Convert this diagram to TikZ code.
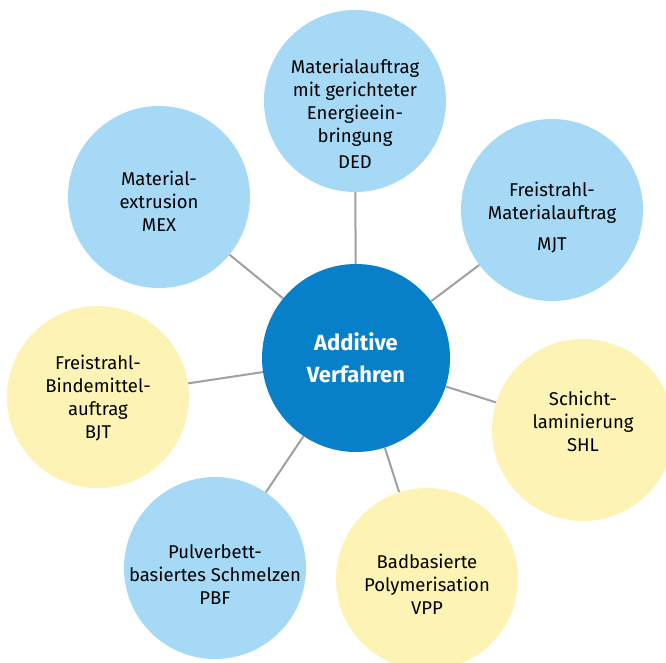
\documentclass[tikz,border=0pt]{standalone}
\usepackage{fontspec}
\setmainfont{Fira Sans}
\definecolor{lblue}{RGB}{166,217,246}
\definecolor{lyellow}{RGB}{252,243,181}
\definecolor{dblue}{RGB}{8,127,201}
\definecolor{conn}{RGB}{160,160,160}
\begin{document}
\begin{tikzpicture}[x=1pt,y=-1pt,
  outer/.style={circle,minimum size=182pt,inner sep=0pt},
  bluec/.style={outer,fill=lblue},
  yelc/.style={outer,fill=lyellow},
  lbl/.style={inner sep=0pt,align=center,text=black,font=\fontsize{18.5}{23}\selectfont},
  hub/.style={circle,minimum size=188pt,inner sep=0pt,fill=dblue,align=center,text=white,
    font=\fontsize{22}{32}\selectfont\bfseries},
  link/.style={draw=conn,line width=2pt}]
\fill[white] (0,0) rectangle (666,662);
\useasboundingbox (0,0) rectangle (666,662);
\begin{scope}
\clip (0,0) rectangle (666,662);
\node[hub] (c) at (356,358) {Additive\\Verfahren};
\node[bluec] (ded) at (355,101) {};
\node[bluec] (mex) at (159,197) {};
\node[bluec] (mjt) at (552,210) {};
\node[yelc] (shl) at (583,430) {};
\node[yelc] (vpp) at (427,579) {};
\node[bluec] (pbf) at (215,568) {};
\node[yelc] (bjt) at (98,397) {};
\node[lbl] (dedt) at ([yshift=-13pt]ded.center) {Materialauftrag\\mit gerichteter\\Energieein-\\bringung\\[3pt]DED};
\node[lbl] (mext) at ([yshift=-4pt]mex.center) {Material-\\extrusion\\MEX};
\node[lbl] (mjtt) at ([yshift=-8pt]mjt.center) {Freistrahl-\\Materialauftrag\\[8pt]MJT};
\node[lbl] (shlt) at ([yshift=9pt]shl.center) {Schicht-\\laminierung\\SHL};
\node[lbl] (vppt) at ([yshift=-5pt]vpp.center) {Badbasierte\\Polymerisation\\VPP};
\node[lbl] (pbft) at ([yshift=-7pt]pbf.center) {Pulverbett-\\basiertes Schmelzen\\PBF};
\node[lbl] (bjtt) at ([yshift=-1pt]bjt.center) {Freistrahl-\\Bindemittel-\\auftrag\\BJT};
\foreach \n in {ded,mex,mjt,shl,vpp,pbf,bjt} \draw[link] (c) -- (\n);
\end{scope}
\end{tikzpicture}
\end{document}
